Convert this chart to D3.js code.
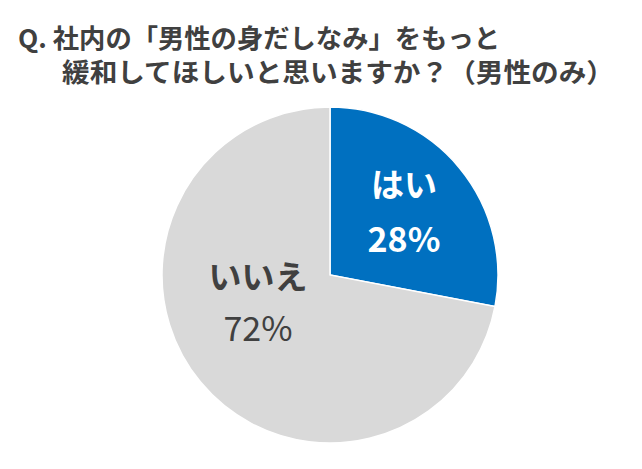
<!DOCTYPE html>
<html><head><meta charset="utf-8">
<script src="https://cdn.jsdelivr.net/npm/d3@7"></script>
<style>body{margin:0;background:#fff}</style></head>
<body><svg id="c" width="642" height="469"></svg>
<script>
const categories=["はい","いいえ"];
const values=[28,72];
const colors=["#0070C0","#D9D9D9"];
const titleLines=["Q. 社内の「男性の身だしなみ」をもっと","緩和してほしいと思いますか？（男性のみ）"];
const svg=d3.select("#c");
const font="'Noto Sans CJK JP','Noto Sans',sans-serif";
svg.append("text").attr("x",18).attr("y",48).attr("font-family",font).attr("font-weight","bold").attr("font-size",26).attr("fill","#404040").attr("textLength",482).attr("lengthAdjust","spacingAndGlyphs").text(titleLines[0]);
svg.append("text").attr("x",62).attr("y",82).attr("font-family",font).attr("font-weight","bold").attr("font-size",26).attr("fill","#404040").attr("textLength",552).attr("lengthAdjust","spacingAndGlyphs").text(titleLines[1]);
const cx=330,cy=275,r=168;
const pie=d3.pie().sort(null)(values);
const arc=d3.arc().innerRadius(0).outerRadius(r);
const g=svg.append("g").attr("transform",`translate(${cx},${cy})`);
g.selectAll("path").data(pie).join("path").attr("d",arc).attr("fill",(d,i)=>colors[i]).attr("stroke","#fff").attr("stroke-width",1.5);
const labelPos=[[74,-78,-23],[-72,14,66]];
pie.forEach((d,i)=>{
  const [x,y1,y2]=labelPos[i];
  const fill=i==0?"#fff":"#404040";
  g.append("text").attr("x",x).attr("y",y1).attr("text-anchor","middle").attr("font-family",font).attr("font-weight","bold").attr("font-size",33).attr("fill",fill).text(categories[i]);
  g.append("text").attr("x",x).attr("y",y2).attr("text-anchor","middle").attr("font-family",font).attr("font-weight",i==0?"bold":"normal").attr("font-size",34).attr("fill",fill).text(values[i]+"%");
});
</script></body></html>
